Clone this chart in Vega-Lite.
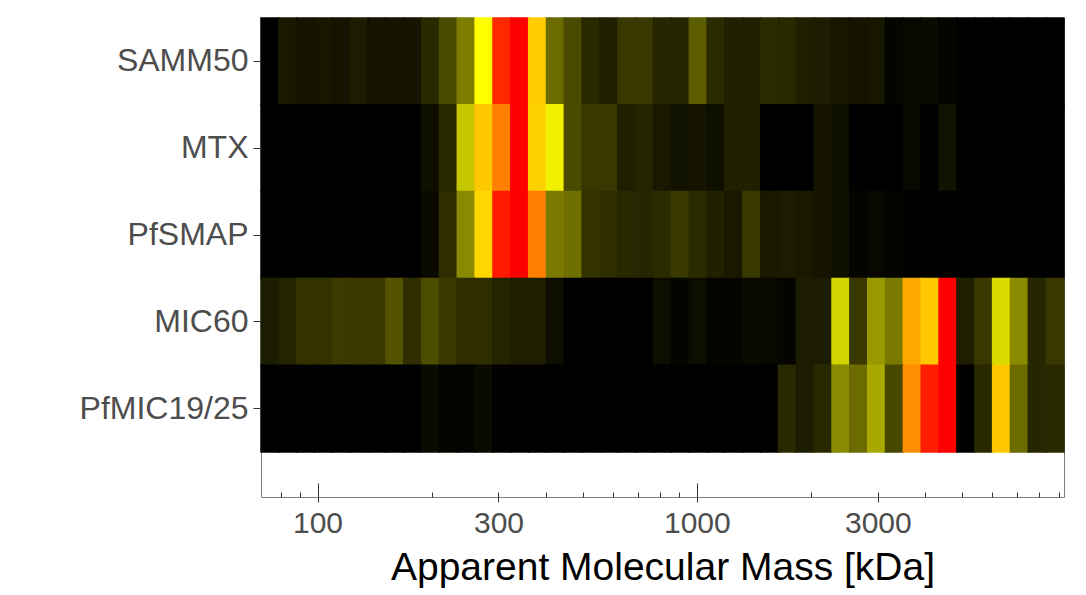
{
  "$schema": "https://vega.github.io/schema/vega-lite/v6.json",
  "autosize": {"type": "none"},
  "padding": {"left": 261, "top": 18, "right": 22, "bottom": 98},
  "width": 803,
  "height": 479,
  "background": "white",
  "config": {"view": {"stroke": "#808080", "strokeWidth": 1}, "font": "Liberation Sans"},
  "datasets": {
    "slices": [
      {"s":0,"lo":70.96,"hi":79.08},{"s":1,"lo":79.08,"hi":88.13},{"s":2,"lo":88.13,"hi":98.21},{"s":3,"lo":98.21,"hi":109.45},{"s":4,"lo":109.45,"hi":121.97},
      {"s":5,"lo":121.97,"hi":135.92},{"s":6,"lo":135.92,"hi":151.47},{"s":7,"lo":151.47,"hi":168.8},{"s":8,"lo":168.8,"hi":188.11},{"s":9,"lo":188.11,"hi":209.63},
      {"s":10,"lo":209.63,"hi":233.61},{"s":11,"lo":233.61,"hi":260.34},{"s":12,"lo":260.34,"hi":290.12},{"s":13,"lo":290.12,"hi":323.31},{"s":14,"lo":323.31,"hi":360.3},
      {"s":15,"lo":360.3,"hi":401.52},{"s":16,"lo":401.52,"hi":447.46},{"s":17,"lo":447.46,"hi":498.65},{"s":18,"lo":498.65,"hi":555.7},{"s":19,"lo":555.7,"hi":619.27},
      {"s":20,"lo":619.27,"hi":690.12},{"s":21,"lo":690.12,"hi":769.07},{"s":22,"lo":769.07,"hi":857.05},{"s":23,"lo":857.05,"hi":955.1},{"s":24,"lo":955.1,"hi":1064.4},
      {"s":25,"lo":1064.4,"hi":1186.1},{"s":26,"lo":1186.1,"hi":1321.8},{"s":27,"lo":1321.8,"hi":1473},{"s":28,"lo":1473,"hi":1641.5},{"s":29,"lo":1641.5,"hi":1829.3},
      {"s":30,"lo":1829.3,"hi":2038.6},{"s":31,"lo":2038.6,"hi":2271.8},{"s":32,"lo":2271.8,"hi":2531.7},{"s":33,"lo":2531.7,"hi":2821.3},{"s":34,"lo":2821.3,"hi":3144.1},
      {"s":35,"lo":3144.1,"hi":3503.8},{"s":36,"lo":3503.8,"hi":3904.6},{"s":37,"lo":3904.6,"hi":4351.3},{"s":38,"lo":4351.3,"hi":4849.1},{"s":39,"lo":4849.1,"hi":5403.8},
      {"s":40,"lo":5403.8,"hi":6021.9},{"s":41,"lo":6021.9,"hi":6710.8},{"s":42,"lo":6710.8,"hi":7478.5},{"s":43,"lo":7478.5,"hi":8334},{"s":44,"lo":8334,"hi":9288}
    ],
    "cells": [
      {"p":"SAMM50","s":0,"v":0},{"p":"SAMM50","s":1,"v":0.05},{"p":"SAMM50","s":2,"v":0.04},{"p":"SAMM50","s":3,"v":0.045},{"p":"SAMM50","s":4,"v":0.04},
      {"p":"SAMM50","s":5,"v":0.055},{"p":"SAMM50","s":6,"v":0.04},{"p":"SAMM50","s":7,"v":0.04},{"p":"SAMM50","s":8,"v":0.04},{"p":"SAMM50","s":9,"v":0.08},
      {"p":"SAMM50","s":10,"v":0.145},{"p":"SAMM50","s":11,"v":0.245},{"p":"SAMM50","s":12,"v":0.5},{"p":"SAMM50","s":13,"v":0.92},{"p":"SAMM50","s":14,"v":1},
      {"p":"SAMM50","s":15,"v":0.6},{"p":"SAMM50","s":16,"v":0.21},{"p":"SAMM50","s":17,"v":0.145},{"p":"SAMM50","s":18,"v":0.08},{"p":"SAMM50","s":19,"v":0.06},
      {"p":"SAMM50","s":20,"v":0.11},{"p":"SAMM50","s":21,"v":0.11},{"p":"SAMM50","s":22,"v":0.075},{"p":"SAMM50","s":23,"v":0.075},{"p":"SAMM50","s":24,"v":0.18},
      {"p":"SAMM50","s":25,"v":0.085},{"p":"SAMM50","s":26,"v":0.065},{"p":"SAMM50","s":27,"v":0.065},{"p":"SAMM50","s":28,"v":0.085},{"p":"SAMM50","s":29,"v":0.08},
      {"p":"SAMM50","s":30,"v":0.06},{"p":"SAMM50","s":31,"v":0.055},{"p":"SAMM50","s":32,"v":0.045},{"p":"SAMM50","s":33,"v":0.04},{"p":"SAMM50","s":34,"v":0.045},
      {"p":"SAMM50","s":35,"v":0.01},{"p":"SAMM50","s":36,"v":0.015},{"p":"SAMM50","s":37,"v":0.02},{"p":"SAMM50","s":38,"v":0.01},{"p":"SAMM50","s":39,"v":0},
      {"p":"SAMM50","s":40,"v":0},{"p":"SAMM50","s":41,"v":0},{"p":"SAMM50","s":42,"v":0},{"p":"SAMM50","s":43,"v":0},{"p":"SAMM50","s":44,"v":0},

      {"p":"MTX","s":0,"v":0},{"p":"MTX","s":1,"v":0},{"p":"MTX","s":2,"v":0},{"p":"MTX","s":3,"v":0},{"p":"MTX","s":4,"v":0},
      {"p":"MTX","s":5,"v":0},{"p":"MTX","s":6,"v":0},{"p":"MTX","s":7,"v":0},{"p":"MTX","s":8,"v":0},{"p":"MTX","s":9,"v":0.03},
      {"p":"MTX","s":10,"v":0.08},{"p":"MTX","s":11,"v":0.39},{"p":"MTX","s":12,"v":0.61},{"p":"MTX","s":13,"v":0.75},{"p":"MTX","s":14,"v":1},
      {"p":"MTX","s":15,"v":0.59},{"p":"MTX","s":16,"v":0.47},{"p":"MTX","s":17,"v":0.145},{"p":"MTX","s":18,"v":0.11},{"p":"MTX","s":19,"v":0.11},
      {"p":"MTX","s":20,"v":0.06},{"p":"MTX","s":21,"v":0.07},{"p":"MTX","s":22,"v":0.05},{"p":"MTX","s":23,"v":0.035},{"p":"MTX","s":24,"v":0.04},
      {"p":"MTX","s":25,"v":0.03},{"p":"MTX","s":26,"v":0.065},{"p":"MTX","s":27,"v":0.065},{"p":"MTX","s":28,"v":0},{"p":"MTX","s":29,"v":0},
      {"p":"MTX","s":30,"v":0},{"p":"MTX","s":31,"v":0.04},{"p":"MTX","s":32,"v":0.03},{"p":"MTX","s":33,"v":0},{"p":"MTX","s":34,"v":0},
      {"p":"MTX","s":35,"v":0},{"p":"MTX","s":36,"v":0.015},{"p":"MTX","s":37,"v":0},{"p":"MTX","s":38,"v":0.035},{"p":"MTX","s":39,"v":0},
      {"p":"MTX","s":40,"v":0},{"p":"MTX","s":41,"v":0},{"p":"MTX","s":42,"v":0},{"p":"MTX","s":43,"v":0},{"p":"MTX","s":44,"v":0},

      {"p":"PfSMAP","s":0,"v":0},{"p":"PfSMAP","s":1,"v":0},{"p":"PfSMAP","s":2,"v":0},{"p":"PfSMAP","s":3,"v":0},{"p":"PfSMAP","s":4,"v":0},
      {"p":"PfSMAP","s":5,"v":0},{"p":"PfSMAP","s":6,"v":0},{"p":"PfSMAP","s":7,"v":0},{"p":"PfSMAP","s":8,"v":0},{"p":"PfSMAP","s":9,"v":0.02},
      {"p":"PfSMAP","s":10,"v":0.09},{"p":"PfSMAP","s":11,"v":0.27},{"p":"PfSMAP","s":12,"v":0.58},{"p":"PfSMAP","s":13,"v":0.95},{"p":"PfSMAP","s":14,"v":1},
      {"p":"PfSMAP","s":15,"v":0.75},{"p":"PfSMAP","s":16,"v":0.24},{"p":"PfSMAP","s":17,"v":0.22},{"p":"PfSMAP","s":18,"v":0.1},{"p":"PfSMAP","s":19,"v":0.09},
      {"p":"PfSMAP","s":20,"v":0.08},{"p":"PfSMAP","s":21,"v":0.075},{"p":"PfSMAP","s":22,"v":0.085},{"p":"PfSMAP","s":23,"v":0.11},{"p":"PfSMAP","s":24,"v":0.085},
      {"p":"PfSMAP","s":25,"v":0.065},{"p":"PfSMAP","s":26,"v":0.05},{"p":"PfSMAP","s":27,"v":0.11},{"p":"PfSMAP","s":28,"v":0.05},{"p":"PfSMAP","s":29,"v":0.055},
      {"p":"PfSMAP","s":30,"v":0.05},{"p":"PfSMAP","s":31,"v":0.04},{"p":"PfSMAP","s":32,"v":0.03},{"p":"PfSMAP","s":33,"v":0.01},{"p":"PfSMAP","s":34,"v":0.015},
      {"p":"PfSMAP","s":35,"v":0.005},{"p":"PfSMAP","s":36,"v":0},{"p":"PfSMAP","s":37,"v":0},{"p":"PfSMAP","s":38,"v":0},{"p":"PfSMAP","s":39,"v":0},
      {"p":"PfSMAP","s":40,"v":0},{"p":"PfSMAP","s":41,"v":0},{"p":"PfSMAP","s":42,"v":0},{"p":"PfSMAP","s":43,"v":0},{"p":"PfSMAP","s":44,"v":0},

      {"p":"MIC60","s":0,"v":0.055},{"p":"MIC60","s":1,"v":0.07},{"p":"MIC60","s":2,"v":0.1},{"p":"MIC60","s":3,"v":0.1},{"p":"MIC60","s":4,"v":0.115},
      {"p":"MIC60","s":5,"v":0.11},{"p":"MIC60","s":6,"v":0.11},{"p":"MIC60","s":7,"v":0.16},{"p":"MIC60","s":8,"v":0.09},{"p":"MIC60","s":9,"v":0.15},
      {"p":"MIC60","s":10,"v":0.11},{"p":"MIC60","s":11,"v":0.09},{"p":"MIC60","s":12,"v":0.09},{"p":"MIC60","s":13,"v":0.07},{"p":"MIC60","s":14,"v":0.06},
      {"p":"MIC60","s":15,"v":0.06},{"p":"MIC60","s":16,"v":0.025},{"p":"MIC60","s":17,"v":0},{"p":"MIC60","s":18,"v":0},{"p":"MIC60","s":19,"v":0},
      {"p":"MIC60","s":20,"v":0},{"p":"MIC60","s":21,"v":0},{"p":"MIC60","s":22,"v":0.025},{"p":"MIC60","s":23,"v":0.01},{"p":"MIC60","s":24,"v":0.025},
      {"p":"MIC60","s":25,"v":0.01},{"p":"MIC60","s":26,"v":0.01},{"p":"MIC60","s":27,"v":0.02},{"p":"MIC60","s":28,"v":0.015},{"p":"MIC60","s":29,"v":0.01},
      {"p":"MIC60","s":30,"v":0.055},{"p":"MIC60","s":31,"v":0.055},{"p":"MIC60","s":32,"v":0.415},{"p":"MIC60","s":33,"v":0.11},{"p":"MIC60","s":34,"v":0.3},
      {"p":"MIC60","s":35,"v":0.24},{"p":"MIC60","s":36,"v":0.67},{"p":"MIC60","s":37,"v":0.61},{"p":"MIC60","s":38,"v":1},{"p":"MIC60","s":39,"v":0.06},
      {"p":"MIC60","s":40,"v":0.11},{"p":"MIC60","s":41,"v":0.43},{"p":"MIC60","s":42,"v":0.27},{"p":"MIC60","s":43,"v":0.075},{"p":"MIC60","s":44,"v":0.11},

      {"p":"PfMIC19/25","s":0,"v":0},{"p":"PfMIC19/25","s":1,"v":0},{"p":"PfMIC19/25","s":2,"v":0},{"p":"PfMIC19/25","s":3,"v":0},{"p":"PfMIC19/25","s":4,"v":0},
      {"p":"PfMIC19/25","s":5,"v":0},{"p":"PfMIC19/25","s":6,"v":0},{"p":"PfMIC19/25","s":7,"v":0},{"p":"PfMIC19/25","s":8,"v":0},{"p":"PfMIC19/25","s":9,"v":0.02},
      {"p":"PfMIC19/25","s":10,"v":0.01},{"p":"PfMIC19/25","s":11,"v":0.005},{"p":"PfMIC19/25","s":12,"v":0.02},{"p":"PfMIC19/25","s":13,"v":0},{"p":"PfMIC19/25","s":14,"v":0},
      {"p":"PfMIC19/25","s":15,"v":0},{"p":"PfMIC19/25","s":16,"v":0},{"p":"PfMIC19/25","s":17,"v":0},{"p":"PfMIC19/25","s":18,"v":0},{"p":"PfMIC19/25","s":19,"v":0},
      {"p":"PfMIC19/25","s":20,"v":0},{"p":"PfMIC19/25","s":21,"v":0},{"p":"PfMIC19/25","s":22,"v":0},{"p":"PfMIC19/25","s":23,"v":0},{"p":"PfMIC19/25","s":24,"v":0},
      {"p":"PfMIC19/25","s":25,"v":0},{"p":"PfMIC19/25","s":26,"v":0},{"p":"PfMIC19/25","s":27,"v":0},{"p":"PfMIC19/25","s":28,"v":0},{"p":"PfMIC19/25","s":29,"v":0.08},
      {"p":"PfMIC19/25","s":30,"v":0.055},{"p":"PfMIC19/25","s":31,"v":0.08},{"p":"PfMIC19/25","s":32,"v":0.27},{"p":"PfMIC19/25","s":33,"v":0.21},{"p":"PfMIC19/25","s":34,"v":0.33},
      {"p":"PfMIC19/25","s":35,"v":0.14},{"p":"PfMIC19/25","s":36,"v":0.72},{"p":"PfMIC19/25","s":37,"v":0.94},{"p":"PfMIC19/25","s":38,"v":1},{"p":"PfMIC19/25","s":39,"v":0},
      {"p":"PfMIC19/25","s":40,"v":0.08},{"p":"PfMIC19/25","s":41,"v":0.61},{"p":"PfMIC19/25","s":42,"v":0.21},{"p":"PfMIC19/25","s":43,"v":0.075},{"p":"PfMIC19/25","s":44,"v":0.08}
    ]
  },
  "data": {"name": "cells"},
  "transform": [
    {"lookup": "s", "from": {"data": {"name": "slices"}, "key": "s", "fields": ["lo", "hi"]}}
  ],
  "layer": [
    {
      "mark": {"type": "rect", "strokeWidth": 1.5, "strokeOpacity": 1},
      "encoding": {
        "x": {
          "field": "lo", "type": "quantitative",
          "scale": {"type": "log", "domain": [70.96, 9288], "nice": false, "zero": false},
          "axis": {
            "title": "Apparent Molecular Mass [kDa]",
            "values": [100, 300, 1000, 3000],
            "format": "d",
            "domain": false, "grid": false,
            "tickSize": 5, "tickColor": "#333333", "tickWidth": 1,
            "labelFontSize": 30, "labelColor": "#4d4d4d", "labelPadding": 6,
            "labelFlush": false, "labelOverlap": false, "labelFont": "Liberation Sans",
            "titleFontSize": 39, "titleColor": "#000000", "titleFontWeight": "normal",
            "titleFont": "Liberation Sans", "titlePadding": 10
          }
        },
        "x2": {"field": "hi"},
        "y": {
          "field": "p", "type": "nominal",
          "sort": ["SAMM50", "MTX", "PfSMAP", "MIC60", "PfMIC19/25"],
          "scale": {"range": [0, 434], "paddingInner": 0, "paddingOuter": 0},
          "axis": {
            "title": null, "domain": false, "grid": false,
            "tickSize": 8, "tickColor": "#333333",
            "labelFontSize": 32, "labelColor": "#4d4d4d", "labelPadding": 5,
            "labelFont": "Liberation Sans"
          }
        },
        "color": {
          "field": "v", "type": "quantitative",
          "scale": {"domain": [0, 0.5, 1], "range": ["#000000", "#ffff00", "#ff0000"], "interpolate": "rgb"},
          "legend": null
        },
        "stroke": {
          "field": "v", "type": "quantitative",
          "scale": {"domain": [0, 0.5, 1], "range": ["#000000", "#ffff00", "#ff0000"], "interpolate": "rgb"},
          "legend": null
        }
      }
    },
    {
      "mark": {"type": "tick", "opacity": 0},
      "encoding": {
        "x": {
          "field": "lo", "type": "quantitative",
          "axis": {
            "orient": "top", "offset": -479, "title": null,
            "values": [80, 90, 200, 300, 400, 500, 600, 700, 800, 900, 2000, 3000, 4000, 5000, 6000, 7000, 8000, 9000],
            "labels": false, "domain": false, "grid": false,
            "tickSize": 5, "tickColor": "#333333", "tickWidth": 1
          }
        }
      }
    },
    {
      "mark": {"type": "tick", "opacity": 0},
      "encoding": {
        "x": {
          "field": "lo", "type": "quantitative",
          "axis": {
            "orient": "top", "offset": -479, "title": null,
            "values": [100, 1000],
            "labels": false, "domain": false, "grid": false,
            "tickSize": 14, "tickColor": "#333333", "tickWidth": 1
          }
        }
      }
    }
  ],
  "resolve": {"axis": {"x": "independent"}}
}
